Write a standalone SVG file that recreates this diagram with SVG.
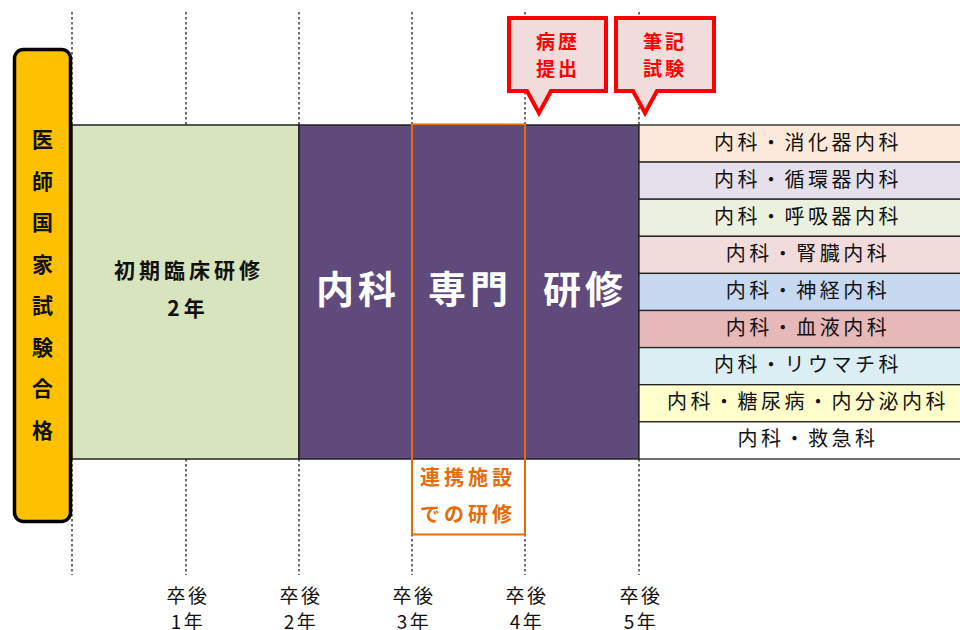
<svg xmlns="http://www.w3.org/2000/svg" width="960" height="630" viewBox="0 0 960 630">
<style>
text{font-family:"Noto Sans CJK JP","Noto Sans CJK SC",sans-serif;text-anchor:middle}
.dot{stroke:#222;stroke-width:1.3;stroke-dasharray:2.5 2.5;fill:none}
.band{stroke:#222;stroke-width:1.5}
.row{stroke:#222;stroke-width:1.3}
.rt{font-size:20px;letter-spacing:3.5px;fill:#111}
.big{font-size:38px;font-weight:700;fill:#fff;letter-spacing:4px}
.call{fill:#F2DCDB;stroke:#FF0000;stroke-width:4;stroke-linejoin:miter}
.ct{font-size:19px;font-weight:700;fill:#FF0000;letter-spacing:3px}
.yr{font-size:19px;fill:#111;letter-spacing:2.5px}
.vt{font-size:21px;font-weight:700;fill:#111}
.ot{font-size:20px;font-weight:700;fill:#E46C0A;letter-spacing:4px}
.st{font-size:21px;font-weight:700;fill:#111;letter-spacing:4px}
</style>
<rect width="960" height="630" fill="#fff"/>
<g id="gridlines">
<path class="dot" d="M72 12V125M186 12V125M299 12V125M412 12V125M525 12V125M639 12V125"/>
<path class="dot" d="M72 459V575M186 459V575M299 459V575M412 459V575M525 459V575M639 459V575"/>
</g>
<g id="shoki">
<rect x="72" y="125" width="227" height="334" fill="#D7E4BD" class="band"/>
<text class="st" x="189" y="278">初期臨床研修</text>
<text class="st" x="188" y="316">2年</text>
</g>
<g id="naika">
<rect x="299" y="125" width="340" height="334" fill="#604A7B" class="band"/>
<text class="big" x="358" y="303">内科</text>
<text class="big" x="470" y="303">専門</text>
<text class="big" x="585" y="303">研修</text>
</g>
<g id="renkei">
<rect x="412" y="124.5" width="113" height="410" fill="none" stroke="#E46C0A" stroke-width="2"/>
<text class="ot" x="468" y="485">連携施設</text>
<text class="ot" x="468" y="522">での研修</text>
</g>
<g id="subspecialties">
<rect x="639" y="125" width="322" height="37.1" fill="#FDE9D9" class="row"/>
<rect x="639" y="162.1" width="322" height="37.1" fill="#E5E0EC" class="row"/>
<rect x="639" y="199.2" width="322" height="37.1" fill="#EBF1DE" class="row"/>
<rect x="639" y="236.3" width="322" height="37.1" fill="#F2DCDB" class="row"/>
<rect x="639" y="273.4" width="322" height="37.1" fill="#C6D9F1" class="row"/>
<rect x="639" y="310.5" width="322" height="37.1" fill="#E6B9B8" class="row"/>
<rect x="639" y="347.6" width="322" height="37.1" fill="#DBEEF4" class="row"/>
<rect x="639" y="384.7" width="322" height="37.1" fill="#FFFFCC" class="row"/>
<rect x="639" y="421.8" width="322" height="37.2" fill="#FFFFFF" class="row"/>
<text class="rt" x="808" y="150">内科・消化器内科</text>
<text class="rt" x="808" y="187">内科・循環器内科</text>
<text class="rt" x="808" y="224">内科・呼吸器内科</text>
<text class="rt" x="808" y="261">内科・腎臓内科</text>
<text class="rt" x="808" y="298">内科・神経内科</text>
<text class="rt" x="808" y="335">内科・血液内科</text>
<text class="rt" x="808" y="372">内科・リウマチ科</text>
<text class="rt" x="808" y="409">内科・糖尿病・内分泌内科</text>
<text class="rt" x="808" y="446">内科・救急科</text>
</g>
<g id="kokushi">
<rect x="14.5" y="49.5" width="56" height="472" rx="9" fill="#FFC000" stroke="#000" stroke-width="3.5"/>
<text class="vt" x="42.5" y="147">医</text>
<text class="vt" x="42.5" y="189">師</text>
<text class="vt" x="42.5" y="230">国</text>
<text class="vt" x="42.5" y="272">家</text>
<text class="vt" x="42.5" y="313">試</text>
<text class="vt" x="42.5" y="355">験</text>
<text class="vt" x="42.5" y="396">合</text>
<text class="vt" x="42.5" y="438">格</text>
</g>
<g id="byoreki">
<path class="call" d="M509 18H606V91H551L539 113L527 91H509Z"/>
<text class="ct" x="558" y="49">病歴</text>
<text class="ct" x="558" y="76">提出</text>
</g>
<g id="hikki">
<path class="call" d="M616 18H714V91H657L645 113L633 91H616Z"/>
<text class="ct" x="665" y="49">筆記</text>
<text class="ct" x="665" y="76">試験</text>
</g>
<g id="years">
<text class="yr" x="188" y="603">卒後</text><text class="yr" x="188" y="629">1年</text>
<text class="yr" x="301" y="603">卒後</text><text class="yr" x="301" y="629">2年</text>
<text class="yr" x="414" y="603">卒後</text><text class="yr" x="414" y="629">3年</text>
<text class="yr" x="527" y="603">卒後</text><text class="yr" x="527" y="629">4年</text>
<text class="yr" x="641" y="603">卒後</text><text class="yr" x="641" y="629">5年</text>
</g>
</svg>
